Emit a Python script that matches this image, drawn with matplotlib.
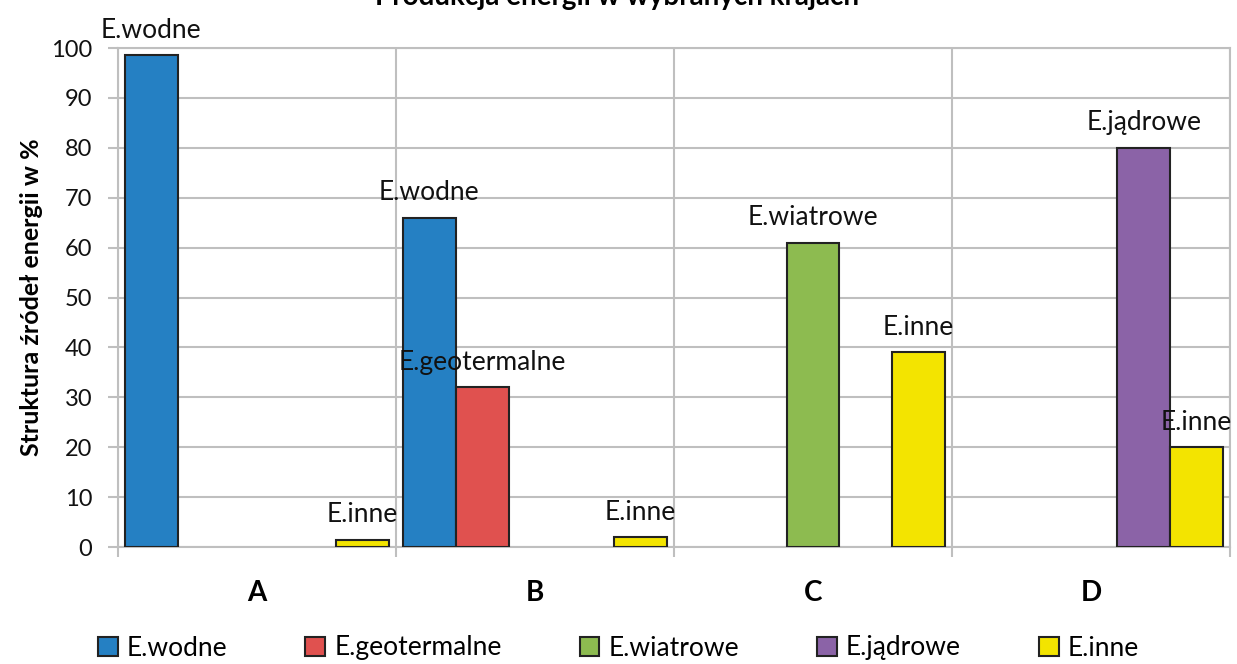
import matplotlib.pyplot as plt
import numpy as np

plt.rcParams['font.family'] = ['Lato', 'DejaVu Sans']

countries = ['A', 'B', 'C', 'D']
series = ['E.wodne', 'E.geotermalne', 'E.wiatrowe', 'E.jądrowe', 'E.inne']
wodne = [98.5, 66, 0, 0]
geotermalne = [0, 32, 0, 0]
wiatrowe = [0, 0, 61, 0]
jadrowe = [0, 0, 0, 80]
inne = [1.5, 2, 39, 20]
values = [wodne, geotermalne, wiatrowe, jadrowe, inne]
colors = ['#2580C3', '#E0514F', '#8DBB50', '#8B63A7', '#F3E400']

fig = plt.figure(figsize=(12.37, 6.64), dpi=100)
ax = fig.add_axes([0.0954, 0.1762, 0.8989, 0.7515])

x = np.arange(len(countries))
w = 0.19
for i, (name, vals, c) in enumerate(zip(series, values, colors)):
    pos = x + (i - 2) * w
    vals = np.array(vals, dtype=float)
    keep = vals > 0
    ax.bar(pos[keep], vals[keep], w, color=c, edgecolor='#222222', linewidth=1.5,
           label=name, zorder=3)
    for p, v in zip(pos[keep], vals[keep]):
        ax.annotate(name, (p, v), xytext=(0, 9), textcoords='offset points',
                    ha='center', va='bottom', fontsize=19, color='#111111')

ax.set_xlim(-0.5, 3.5)
ax.set_ylim(0, 100)
ax.set_yticks(range(0, 101, 10))
ax.set_xticks(x)
ax.set_xticklabels(countries, fontsize=20, fontweight='bold')
ax.set_xticks(np.arange(-0.5, 4, 1), minor=True)
ax.tick_params(axis='x', which='major', length=0, pad=24)
ax.tick_params(axis='x', which='minor', length=7.5, color='#BFBFBF', width=1.5)
ax.tick_params(axis='y', length=7.5, color='#BFBFBF', width=1.5, labelsize=17, pad=11,
               labelcolor='#111111')
ax.grid(axis='y', color='#BFBFBF', linewidth=1.5, zorder=0)
ax.grid(axis='x', which='minor', color='#BFBFBF', linewidth=1.5, zorder=0)
for s in ax.spines.values():
    s.set_color('#BFBFBF')
    s.set_linewidth(1.5)

ax.set_ylabel('Struktura źródeł energii w %', fontsize=18, fontweight='bold', labelpad=6)
fig.text(0.4985, 1 - 5 / 664, 'Produkcja energii w wybranych krajach', ha='center',
         va='baseline', fontsize=20, fontweight='bold')

fig.legend(loc='center', bbox_to_anchor=(0.5, 1 - 648 / 664), ncol=5, frameon=False,
           fontsize=19, handlelength=0.75, handleheight=0.75, handletextpad=0.35,
           columnspacing=2.95)

fig.savefig('out.png', dpi=100)
